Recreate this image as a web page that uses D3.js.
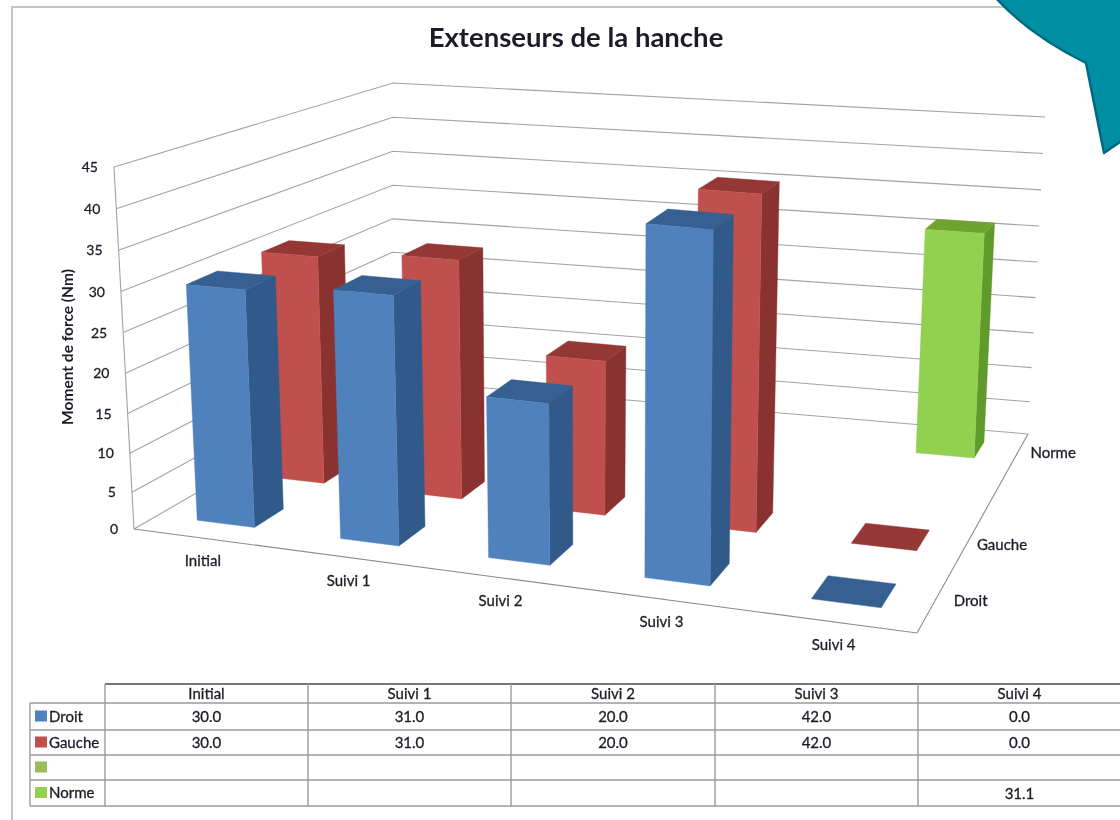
<!DOCTYPE html>
<html><head><meta charset="utf-8">
<script src="https://cdn.jsdelivr.net/npm/d3@7"></script>
<style>
html,body{margin:0;padding:0;background:#fff}
svg{display:block;filter:blur(0.45px)}
text{font-family:Lato,"Open Sans",sans-serif;fill:#1c1c28}
.semi text{stroke:#1c1c28;stroke-width:0.3px}
</style></head><body>
<svg id="c" width="1120" height="820"></svg>
<script>
const categories = ["Initial","Suivi 1","Suivi 2","Suivi 3","Suivi 4"];
const seriesNames = ["Droit","Gauche","","Norme"];
const droit = [30,31,20,42,0];
const gauche = [30,31,20,42,0];
const vide = [null,null,null,null,null];
const norme = [null,null,null,null,31.1];
const yTicks = [0,5,10,15,20,25,30,35,40,45];
const tableDroit = ["30.0","31.0","20.0","42.0","0.0"];
const tableGauche = ["30.0","31.0","20.0","42.0","0.0"];
const tableVide = ["","","","",""];
const tableNorme = ["","","","","31.1"];
const frontColors = ["#4f81bd","#c0504d","#9bbb59","#92d050"];
const topColors = ["#376092","#953735","#76923c","#6fa32f"];
const sideColors = ["#31598a","#8a3230","#6b8535","#5f9a2a"];
const allSeries = [droit,gauche,vide,norme];
const tableRows = [tableDroit,tableGauche,tableVide,tableNorme];

const svg = d3.select("#c");

// perspective calibration of the chart box: floor plane, and the height vector at each floor corner
const floorQuad = [[134,529],[917,633],[1028,434],[392,380]];
const heightQuad = [[-20,-362],[10,-397],[17,-317],[1,-297]];
function homography(q){
  const [p0,p1,p2,p3]=q;
  const dx1=p1[0]-p2[0],dx2=p3[0]-p2[0],sx=p0[0]-p1[0]+p2[0]-p3[0];
  const dy1=p1[1]-p2[1],dy2=p3[1]-p2[1],sy=p0[1]-p1[1]+p2[1]-p3[1];
  const den=dx1*dy2-dx2*dy1;
  const g=(sx*dy2-dx2*sy)/den,h=(dx1*sy-sx*dy1)/den;
  const H=[p1[0]-p0[0]+g*p1[0],p3[0]-p0[0]+h*p3[0],p0[0],
          p1[1]-p0[1]+g*p1[1],p3[1]-p0[1]+h*p3[1],p0[1],g,h,1];
  return (u,v)=>{const w=H[6]*u+H[7]*v+1;return [(H[0]*u+H[1]*v+H[2])/w,(H[3]*u+H[4]*v+H[5])/w];};
}
const floorMap=homography(floorQuad);
const heightAt=(u,v)=>[0,1].map(k=>
  (1-u)*(1-v)*heightQuad[0][k]+u*(1-v)*heightQuad[1][k]+u*v*heightQuad[2][k]+(1-u)*v*heightQuad[3][k]);

const uScale=d3.scaleBand().domain(d3.range(categories.length)).range([0,1]).paddingInner(0.6).paddingOuter(0.26);
const vScale=d3.scaleBand().domain(d3.range(seriesNames.length)).range([0,1]).paddingInner(0.6).paddingOuter(0.3);
const uWarp=d3.scalePow().exponent(0.95).domain([0,1]).range([0,1]);
const tScale=d3.scalePow().exponent(1.04).domain([0,45]).range([0,1]);
function proj(u,v,val){
  const uw=uWarp(u),a=floorMap(uw,v),h=heightAt(uw,v),t=tScale(val);
  return [a[0]+h[0]*t,a[1]+h[1]*t];
}
const line=d3.line();

// frame
svg.append("path").attr("d","M1120,7H12V820").attr("fill","none").attr("stroke","#c4c4c4").attr("stroke-width",2);

// walls
const gridG=svg.append("g").attr("fill","none").attr("stroke","#a3a3a3").attr("stroke-width",1.1);
yTicks.forEach(t=>{
  gridG.append("path").attr("d",line([proj(0,0,t),proj(0,1,t),proj(1,1,t)]));
});
gridG.append("path").attr("d",line([proj(0,0,0),proj(0,0,45)]));
gridG.append("path").attr("d",line([proj(0,0,0),proj(1,0,0),proj(1,1,0)])).attr("stroke","#8c8c8c");

// bars
const barG=svg.append("g");
d3.range(seriesNames.length).reverse().forEach(s=>{
  allSeries[s].forEach((val,c)=>{
    if(val===null) return;
    const u0=uScale(c),u1=u0+uScale.bandwidth(),v0=vScale(s),v1=v0+vScale.bandwidth();
    const poly=(pts,col)=>barG.append("path").attr("d",line(pts)+"Z").attr("fill",col).attr("stroke",col).attr("stroke-width",0.4);
    if(val>0){
      poly([proj(u1,v0,0),proj(u1,v1,0),proj(u1,v1,val),proj(u1,v0,val)],sideColors[s]);
    }
    poly([proj(u0,v0,val),proj(u1,v0,val),proj(u1,v1,val),proj(u0,v1,val)],topColors[s]);
    if(val>0){
      poly([proj(u0,v0,0),proj(u1,v0,0),proj(u1,v0,val),proj(u0,v0,val)],frontColors[s]);
    }
  });
});

// tick labels
const tickG=svg.append("g").attr("class","semi").attr("font-size",14);
yTicks.forEach(t=>{
  const p=proj(0,0,t);
  tickG.append("text").attr("x",p[0]-16).attr("y",p[1]+5).attr("text-anchor","end").text(t);
});
svg.append("text").attr("transform","translate(73,347) rotate(-90)").attr("text-anchor","middle")
  .attr("font-size",15.5).attr("font-weight",700).text("Moment de force (Nm)");

const labG=svg.append("g").attr("class","semi").attr("font-size",15).attr("text-anchor","middle");
categories.forEach((c,i)=>{
  const p=proj(uScale(i)+uScale.bandwidth()/2,0,0);
  labG.append("text").attr("x",p[0]).attr("y",p[1]+28).text(c);
});
seriesNames.forEach((n,i)=>{
  if(!n) return;
  const p=proj(1,vScale(i)+vScale.bandwidth()/2,0);
  labG.append("text").attr("x",p[0]+36).attr("y",p[1]+5).text(n);
});

svg.append("text").attr("x",576).attr("y",47).attr("text-anchor","middle")
  .attr("font-size",27.5).attr("font-weight",700).attr("fill","#111").text("Extenseurs de la hanche");

// data table
const colX=[105,308,511,715,918,1121];
const rowY=[684,703,730,755,780,806];
const tG=svg.append("g").attr("fill","none").attr("stroke","#9a9a9a").attr("stroke-width",1.4);
tG.append("path").attr("d","M105,684H1120").attr("stroke","#777").attr("stroke-width",2);
rowY.slice(1).forEach(y=>tG.append("path").attr("d",`M30,${y}H1120`));
tG.append("path").attr("d","M30,703V806");
colX.slice(0,5).forEach(x=>tG.append("path").attr("d",`M${x},684V806`));
const tx=svg.append("g").attr("class","semi").attr("font-size",15);
categories.forEach((c,i)=>{
  tx.append("text").attr("x",(colX[i]+colX[i+1])/2).attr("y",699).attr("text-anchor","middle").text(c);
});
tableRows.forEach((r,j)=>{
  const ym=(rowY[j+1]+rowY[j+2])/2;
  r.forEach((v,i)=>{ if(v) tx.append("text").attr("x",(colX[i]+colX[i+1])/2).attr("y",ym+5.5).attr("text-anchor","middle").text(v); });
  svg.append("rect").attr("x",35).attr("y",ym-6).attr("width",12).attr("height",11).attr("fill",frontColors[j]);
  if(seriesNames[j]) tx.append("text").attr("x",49).attr("y",ym+5).text(seriesNames[j]);
});

// callout in the corner
svg.append("path").attr("d","M995,-3C1020,25 1050,45 1086,63L1104,153L1123,140V-3Z")
  .attr("fill","#008ea3").attr("stroke","#006a80").attr("stroke-width",2.5).attr("stroke-linejoin","round");
</script></body></html>
